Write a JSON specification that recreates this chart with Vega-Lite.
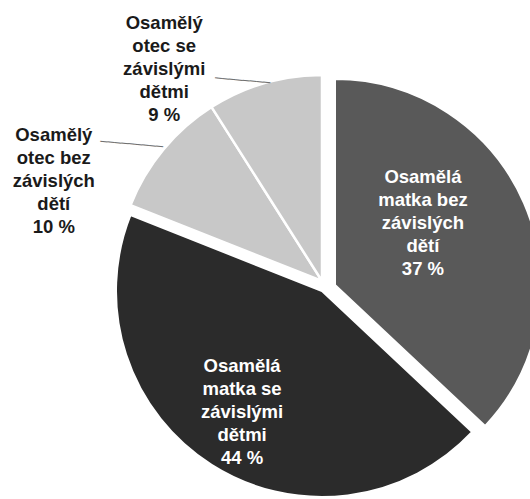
{
  "$schema": "https://vega.github.io/schema/vega-lite/v6.json",
  "width": 412,
  "height": 412,
  "autosize": {"type": "none"},
  "padding": {"left": 116, "top": 75, "right": 2, "bottom": 12},
  "background": "white",
  "config": {"view": {"stroke": null}},
  "data": {
    "values": [
      {"kategorie": "Osamělá\nmatka bez\nzávislých\ndětí", "hodnota": 37},
      {"kategorie": "Osamělá\nmatka se\nzávislými\ndětmi", "hodnota": 44},
      {"kategorie": "Osamělý\notec bez\nzávislých\ndětí", "hodnota": 10},
      {"kategorie": "Osamělý\notec se\nzávislými\ndětmi", "hodnota": 9}
    ]
  },
  "transform": [
    {"stack": "hodnota", "groupby": [], "as": ["v0", "v1"]},
    {"calculate": "(datum.v0 + datum.v1) / 2", "as": "stred"},
    {"calculate": "datum.kategorie + '\\n' + datum.hodnota + ' %'", "as": "popisek"}
  ],
  "layer": [
    {
      "transform": [{"filter": "datum.hodnota == 37"}],
      "mark": {"type": "arc", "fill": "#595959", "stroke": "white", "strokeWidth": 2, "xOffset": 13, "yOffset": 4},
      "encoding": {
        "theta": {"field": "v0", "type": "quantitative", "scale": {"domain": [0, 100]}},
        "theta2": {"field": "v1"}
      }
    },
    {
      "transform": [{"filter": "datum.hodnota == 44"}],
      "mark": {"type": "arc", "fill": "#2b2b2b", "stroke": "white", "strokeWidth": 2, "xOffset": 0, "yOffset": 10},
      "encoding": {
        "theta": {"field": "v0", "type": "quantitative"},
        "theta2": {"field": "v1"}
      }
    },
    {
      "transform": [{"filter": "datum.hodnota <= 10"}],
      "mark": {"type": "arc", "fill": "#c8c8c8", "stroke": "white", "strokeWidth": 2.5},
      "encoding": {
        "theta": {"field": "v0", "type": "quantitative"},
        "theta2": {"field": "v1"}
      }
    },
    {
      "transform": [{"filter": "datum.hodnota == 37"}],
      "mark": {"type": "text", "radius": 110, "dx": 0, "dy": -60, "font": "Liberation Sans", "fontWeight": "bold", "fontSize": 18.5, "lineHeight": 23, "lineBreak": "\n", "fill": "white", "align": "center", "baseline": "middle"},
      "encoding": {
        "theta": {"field": "stred", "type": "quantitative"},
        "text": {"field": "popisek"}
      }
    },
    {
      "transform": [{"filter": "datum.hodnota == 44"}],
      "mark": {"type": "text", "radius": 152, "dx": 1.5, "dy": -43.5, "font": "Liberation Sans", "fontWeight": "bold", "fontSize": 18.5, "lineHeight": 23, "lineBreak": "\n", "fill": "white", "align": "center", "baseline": "middle"},
      "encoding": {
        "theta": {"field": "stred", "type": "quantitative"},
        "text": {"field": "popisek"}
      }
    },
    {
      "transform": [{"filter": "datum.hodnota == 10"}],
      "mark": {"type": "text", "radius": 230, "dx": -91, "dy": 0.5, "font": "Liberation Sans", "fontWeight": "bold", "fontSize": 18.5, "lineHeight": 23, "lineBreak": "\n", "fill": "#1a1a1a", "align": "center", "baseline": "middle"},
      "encoding": {
        "theta": {"field": "stred", "type": "quantitative"},
        "text": {"field": "popisek"}
      }
    },
    {
      "transform": [{"filter": "datum.hodnota == 9"}],
      "mark": {"type": "text", "radius": 225, "dx": -95, "dy": -42, "font": "Liberation Sans", "fontWeight": "bold", "fontSize": 18.5, "lineHeight": 23, "lineBreak": "\n", "fill": "#1a1a1a", "align": "center", "baseline": "middle"},
      "encoding": {
        "theta": {"field": "stred", "type": "quantitative"},
        "text": {"field": "popisek"}
      }
    },
    {
      "transform": [{"filter": "datum.hodnota == 9"}],
      "mark": {"type": "text", "text": "────────", "radius": 206, "dx": -22, "dy": 0, "angle": 5, "font": "DejaVu Sans Mono", "fontSize": 11.5, "fill": "#707070", "align": "center", "baseline": "middle"},
      "encoding": {
        "theta": {"field": "stred", "type": "quantitative"}
      }
    },
    {
      "transform": [{"filter": "datum.hodnota == 10"}],
      "mark": {"type": "text", "text": "─────────", "radius": 206, "dx": -32, "dy": -2, "angle": 5, "font": "DejaVu Sans Mono", "fontSize": 11.6, "fill": "#707070", "align": "center", "baseline": "middle"},
      "encoding": {
        "theta": {"field": "stred", "type": "quantitative"}
      }
    }
  ]
}
